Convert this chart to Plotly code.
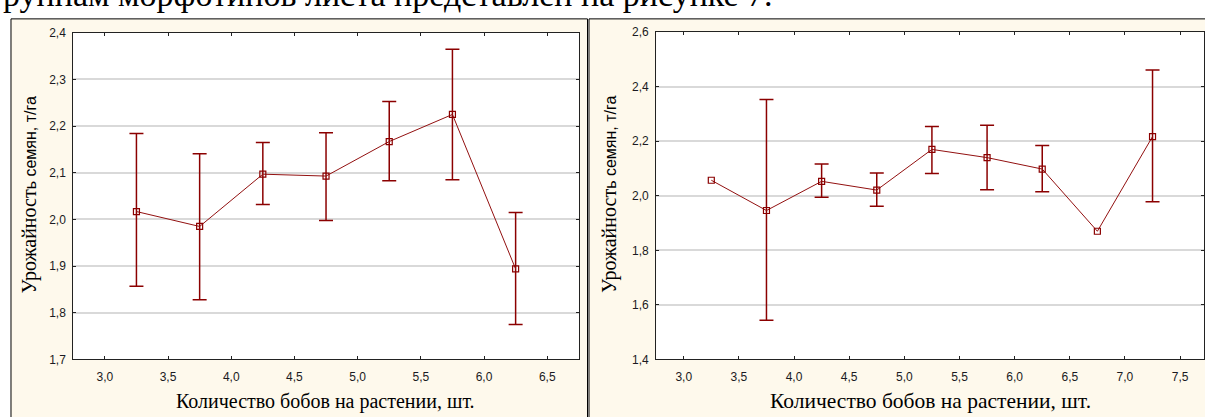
import plotly.graph_objects as go

W, H = 1205, 417

# Left chart: seed yield by number of pods per plant
x_left = [3.25, 3.75, 4.25, 4.75, 5.25, 5.75, 6.25]
mean_left = [2.017, 1.985, 2.097, 2.093, 2.167, 2.225, 1.894]
upper_left = [2.184, 2.141, 2.165, 2.186, 2.253, 2.365, 2.015]
lower_left = [1.857, 1.828, 2.032, 1.998, 2.083, 2.085, 1.775]

# Right chart (no interval where only one value was available)
x_right = [3.25, 3.75, 4.25, 4.75, 5.25, 5.75, 6.25, 6.75, 7.25]
mean_right = [2.057, 1.946, 2.053, 2.021, 2.170, 2.140, 2.098, 1.870, 2.217]
upper_right = [None, 2.353, 2.117, 2.084, 2.254, 2.259, 2.184, None, 2.461]
lower_right = [None, 1.544, 1.995, 1.962, 2.082, 2.022, 2.015, None, 1.978]

x_title = "Количество бобов на растении, шт."
y_title_serif = "Урожайност"
y_title_sans = "ь семян, т/га"
page_text = "рупнам морфотипов листа представлен на рисунке 7."

RED = "#8B0000"
CREAM = "#FEF9EC"
SERIF = "Liberation Serif, Times New Roman, serif"
SANS = "Liberation Sans, Arial, sans-serif"


def px_x(p):
    return p / W


def px_y(p):
    return 1 - p / H


fig = go.Figure()

for xs, ms, us, ls, xa, ya in [
    (x_left, mean_left, upper_left, lower_left, "x", "y"),
    (x_right, mean_right, upper_right, lower_right, "x2", "y2"),
]:
    # intervals only for groups that have one
    keep = [i for i, u in enumerate(us) if u is not None]
    fig.add_trace(go.Scatter(
        x=[xs[i] for i in keep], y=[ms[i] for i in keep], xaxis=xa, yaxis=ya,
        mode="markers",
        marker=dict(size=1, color="rgba(0,0,0,0)"),
        error_y=dict(type="data", symmetric=False,
                     array=[us[i] - ms[i] for i in keep],
                     arrayminus=[ms[i] - ls[i] for i in keep],
                     color=RED, thickness=1.5, width=7),
        showlegend=False, hoverinfo="skip", cliponaxis=False,
    ))
    fig.add_trace(go.Scatter(
        x=xs, y=ms, xaxis=xa, yaxis=ya,
        mode="lines+markers",
        line=dict(color="#921010", width=1),
        marker=dict(symbol="square-open", size=6, color=RED, line=dict(width=1.2, color=RED)),
        showlegend=False,
        cliponaxis=False,
    ))

axis_common = dict(
    showline=True, linecolor="#222222", linewidth=1, mirror="ticks",
    ticks="inside", ticklen=3, tickwidth=1, tickcolor="#222222",
    tickfont=dict(family=SANS, size=12, color="#1a1a22"),
    tickformat=".1f", zeroline=False,
)

fig.update_layout(
    width=W, height=H,
    margin=dict(l=0, r=0, t=0, b=0),
    paper_bgcolor="white",
    plot_bgcolor="white",
    separators=", ",
    xaxis=dict(domain=[px_x(73.3), px_x(579.3)], range=[2.75, 6.75], anchor="y",
               tick0=3.0, dtick=0.5, showgrid=False, ticklabelstandoff=6, **axis_common),
    yaxis=dict(domain=[px_y(364.7), px_y(26.7)], range=[1.7, 2.4], anchor="x",
               tick0=1.7, dtick=0.1, showgrid=True, gridcolor="#d9d9d9", gridwidth=1.5,
               ticklabelstandoff=4, **axis_common),
    xaxis2=dict(domain=[px_x(656.7), 1.0], range=[2.75, 7.7166], anchor="y2",
                tick0=3.0, dtick=0.5, showgrid=False, ticklabelstandoff=6, **axis_common),
    yaxis2=dict(domain=[px_y(364.7), px_y(26.0)], range=[1.4, 2.6], anchor="x2",
                tick0=1.4, dtick=0.2, showgrid=True, gridcolor="#d9d9d9", gridwidth=1.5,
                ticklabelstandoff=4, **axis_common),
)

# Panel frames (cream background with black border)
for x0, x1 in [(11, 588), (589.5, 1230)]:
    fig.add_shape(type="rect", xref="paper", yref="paper", layer="below",
                  x0=px_x(x0), x1=px_x(x1), y0=-0.2, y1=px_y(12.3),
                  fillcolor=CREAM, line=dict(color="black", width=1))

# White plotting areas inside the panels
for ax in ["x", "x2"]:
    yax = "y" if ax == "x" else "y2"
    fig.add_shape(type="rect", xref=f"{ax} domain", yref=f"{yax} domain", layer="below",
                  x0=0, x1=1, y0=0, y1=1, fillcolor="white", line=dict(width=0))

# Line of document text above the panels
fig.add_annotation(text=page_text, xref="paper", yref="paper",
                   x=px_x(1), y=px_y(8), xanchor="left", yanchor="bottom",
                   showarrow=False, font=dict(family=SERIF, size=34, color="black"))

y_title = (f'<span style="font-family:{SERIF};font-size:20px">{y_title_serif}</span>'
           f'<span style="font-family:{SANS};font-size:16px">{y_title_sans}</span>')

for cx, ycx, fs in [(326, 30, 20), (931.5, 610, 21.5)]:
    fig.add_annotation(text=x_title, xref="paper", yref="paper",
                       x=px_x(cx), y=px_y(408), xanchor="center", yanchor="middle",
                       showarrow=False, font=dict(family=SERIF, size=fs, color="black"))
    fig.add_annotation(text=y_title, xref="paper", yref="paper",
                       x=px_x(ycx), y=px_y(194), xanchor="center", yanchor="middle",
                       textangle=-90, showarrow=False,
                       font=dict(family=SERIF, size=20, color="black"))

fig.write_html("out.html")
